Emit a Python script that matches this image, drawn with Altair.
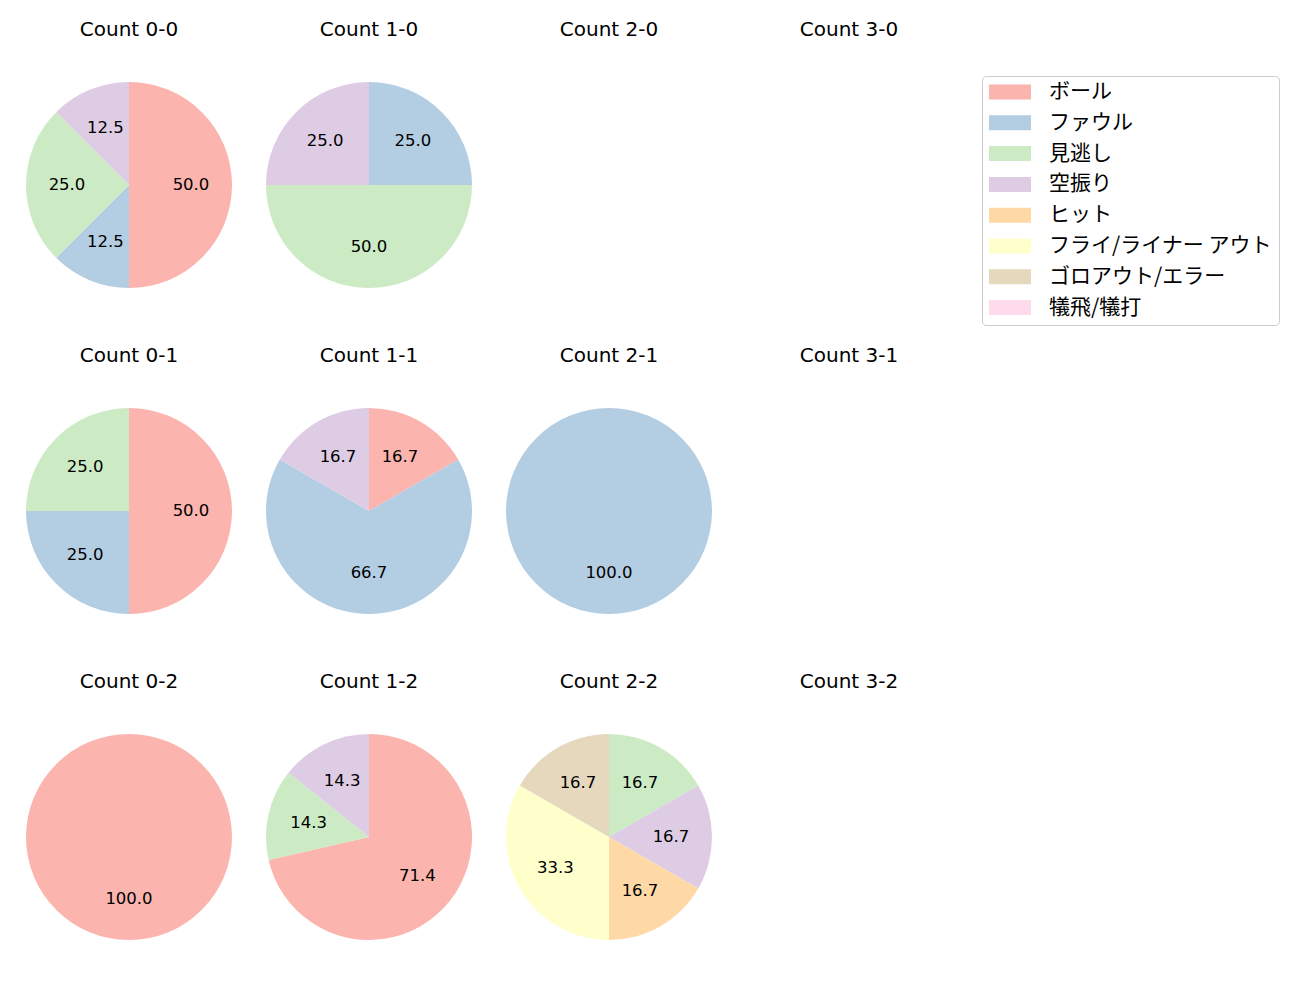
import altair as alt
import pandas as pd

categories = ["ボール", "ファウル", "見逃し", "空振り", "ヒット",
              "フライ/ライナー アウト", "ゴロアウト/エラー", "犠飛/犠打"]
colors = ["#fbb4ae", "#b3cde3", "#ccebc5", "#decbe4", "#fed9a6",
          "#ffffcc", "#e5d8bd", "#fddaec"]

panel_names = ["0-0", "1-0", "2-0", "3-0",
               "0-1", "1-1", "2-1", "3-1",
               "0-2", "1-2", "2-2", "3-2"]

counts_0_0 = [4, 1, 2, 1, 0, 0, 0, 0]
counts_1_0 = [0, 1, 2, 1, 0, 0, 0, 0]
counts_2_0 = [0, 0, 0, 0, 0, 0, 0, 0]
counts_3_0 = [0, 0, 0, 0, 0, 0, 0, 0]
counts_0_1 = [2, 1, 1, 0, 0, 0, 0, 0]
counts_1_1 = [1, 4, 0, 1, 0, 0, 0, 0]
counts_2_1 = [0, 1, 0, 0, 0, 0, 0, 0]
counts_3_1 = [0, 0, 0, 0, 0, 0, 0, 0]
counts_0_2 = [1, 0, 0, 0, 0, 0, 0, 0]
counts_1_2 = [5, 0, 1, 1, 0, 0, 0, 0]
counts_2_2 = [0, 0, 1, 1, 1, 2, 1, 0]
counts_3_2 = [0, 0, 0, 0, 0, 0, 0, 0]

panel_counts = [counts_0_0, counts_1_0, counts_2_0, counts_3_0,
                counts_0_1, counts_1_1, counts_2_1, counts_3_1,
                counts_0_2, counts_1_2, counts_2_2, counts_3_2]

R = 103
W = 206

color_scale = alt.Scale(domain=categories, range=colors)
legend = alt.Legend(
    title=None,
    orient="none",
    legendX=956,
    legendY=-6,
    symbolType="M-1,-0.357L1,-0.357L1,0.357L-1,0.357Z",
    symbolSize=1764,
    symbolStrokeWidth=0,
    symbolOpacity=1,
    clipHeight=18,
    labelFont="Noto Sans CJK JP",
    labelFontSize=21,
    labelColor="black",
    labelOffset=18,
    labelLimit=400,
    rowPadding=9.8,
    padding=7,
    strokeColor="#cccccc",
    cornerRadius=4,
    fillColor="white",
)


def make_panel(name, counts):
    title = alt.TitleParams(f"Count {name}", font="DejaVu Sans", fontSize=20,
                            fontWeight="normal", color="black", offset=42)
    total = sum(counts)
    if total == 0:
        df = pd.DataFrame({"v": [1]})
        return alt.Chart(df).mark_arc(opacity=0).encode(
            theta=alt.Theta("v:Q")
        ).properties(width=W, height=W, title=title)
    rows = []
    for i, (c, n) in enumerate(zip(categories, counts)):
        if n > 0:
            rows.append({"cat": c, "idx": i, "n": n,
                         "label": f"{n / total * 100:.1f}"})
    df = pd.DataFrame(rows)
    base = alt.Chart(df).encode(
        theta=alt.Theta("n:Q", stack=True),
        order=alt.Order("idx:Q", sort="ascending"),
    )
    arc = base.mark_arc(radius=R, strokeWidth=0).encode(
        color=alt.Color("cat:N", scale=color_scale, legend=legend)
    )
    text = base.mark_text(radius=62, font="DejaVu Sans", fontSize=16.5,
                          color="black").encode(text="label:N")
    return alt.layer(arc, text).properties(width=W, height=W, title=title)


panels = [make_panel(n, c) for n, c in zip(panel_names, panel_counts)]
rows = [alt.hconcat(*panels[i:i + 4], spacing=34) for i in range(0, 12, 4)]
chart = alt.vconcat(*rows, spacing=58).resolve_scale(color="shared").properties(
    padding={"left": 26, "top": 20, "right": 10, "bottom": 10}
).configure_view(stroke=None)

chart.save("out.html", embed_options={"renderer": "svg", "actions": False})
